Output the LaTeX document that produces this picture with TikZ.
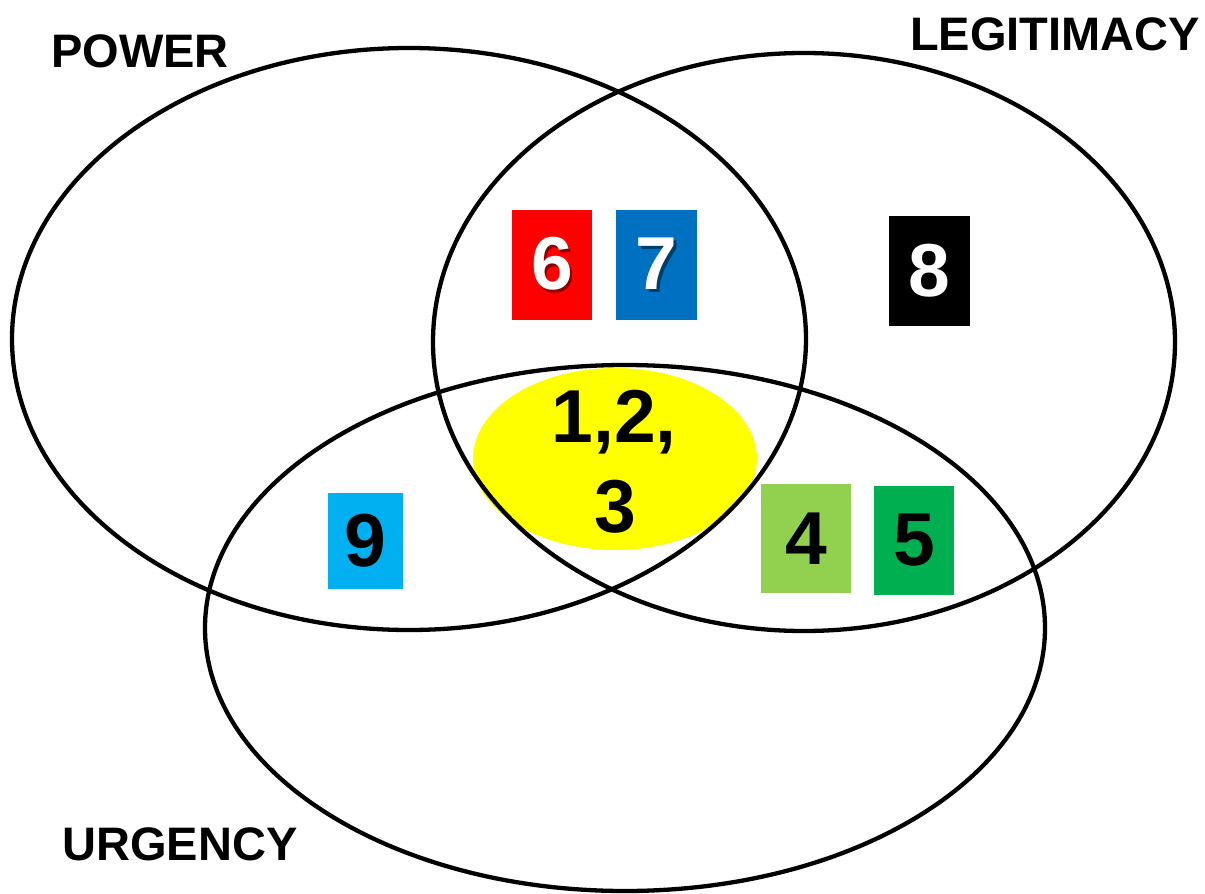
\documentclass[tikz,border=0pt]{standalone}
\usepackage{fontspec}
\setmainfont{Liberation Sans}
\definecolor{cRed}{HTML}{FF0000}
\definecolor{cBlue}{HTML}{0070C0}
\definecolor{cSky}{HTML}{00B0F0}
\definecolor{cLime}{HTML}{92D050}
\definecolor{cGreen}{HTML}{00B050}
\definecolor{cYellow}{HTML}{FFFF00}
\newcommand{\shadowdigit}[2]{\rlap{\kern2.5pt\raisebox{-2.5pt}{\textcolor{#1}{#2}}}#2}
\begin{document}
\begin{tikzpicture}[x=1pt,y=-1pt,
  ring/.style={draw=black, line width=4.3pt},
  title/.style={font=\fontsize{47}{56}\selectfont\bfseries, inner sep=0pt, anchor=base},
  tile/.style={inner sep=0pt, draw=none},
  digit/.style={font=\fontsize{75}{90}\selectfont\bfseries, inner sep=0pt}
]
\useasboundingbox (0,0) rectangle (1205,894);

% yellow core
\fill[cYellow] (615,459) ellipse [x radius=142pt, y radius=91pt];

% circles
\draw[ring] (409,339) ellipse [x radius=397pt, y radius=291pt];
\draw[ring] (804,342) ellipse [x radius=371pt, y radius=289pt];
\draw[ring] (625,628) ellipse [x radius=420pt, y radius=263pt];

% titles
\node[title] (power) at (140,67) {POWER};
\node[title] (legit) at (1055,50) {LEGITIMACY};
\node[title] (urg) at (180,860) {URGENCY};

% boxes
\node[tile, fill=cRed, minimum width=80pt, minimum height=110pt] (b6) at (552,265) {};
\node[tile, fill=cBlue, minimum width=81pt, minimum height=110pt] (b7) at (656.5,265) {};
\node[tile, fill=black, minimum width=81pt, minimum height=110pt] (b8) at (929.5,271) {};
\node[tile, fill=cSky, minimum width=75pt, minimum height=96pt] (b9) at (365.5,541) {};
\node[tile, fill=cLime, minimum width=90pt, minimum height=109pt] (b4) at (806,538.5) {};
\node[tile, fill=cGreen, minimum width=80pt, minimum height=109pt] (b5) at (914,540.5) {};

% digits
\node[digit, text=white] (t6) at (b6) {\shadowdigit{cRed!55!black}{6}};
\node[digit, text=white] (t7) at (b7) {\shadowdigit{cBlue!55!black}{7}};
\node[digit, text=white] (t8) at (b8) {8};
\node[digit] (t9) at (b9) {9};
\node[digit] (t4) at (b4) {4};
\node[digit] (t5) at (b5) {5};

% core text
\node[digit, anchor=base] (c1) at (614,442) {1,2,};
\node[digit, anchor=base] (c2) at (615,532) {3};
\end{tikzpicture}
\end{document}
